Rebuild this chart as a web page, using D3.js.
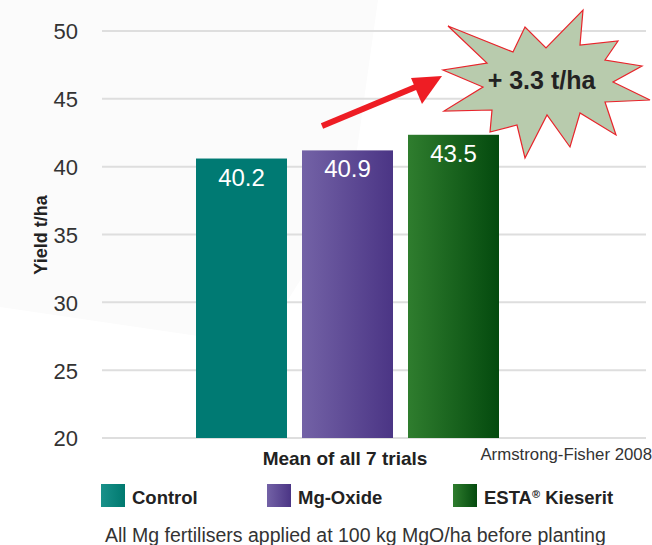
<!DOCTYPE html>
<html>
<head>
<meta charset="utf-8">
<script src="https://cdn.jsdelivr.net/npm/d3@7"></script>
<style>
  html, body { margin: 0; padding: 0; background: #fff; }
  svg { display: block; font-family: "Liberation Sans", Arial, sans-serif; }
</style>
</head>
<body>
<svg id="chart" width="652" height="545"></svg>
<script>
// ---- data ----
const categories = ["Control", "Mg-Oxide", "ESTA® Kieserit"];
const barValues = [40.6, 41.2, 42.35];          // bar heights as drawn
const barLabels = ["40.2", "40.9", "43.5"];     // printed labels
const yTicks = [20, 25, 30, 35, 40, 45, 50];
const gainLabel = "+ 3.3 t/ha";

const svg = d3.select("#chart");
const defs = svg.append("defs");

const grads = [
  ["g0", "#007a73", "#007a73"],
  ["g1", "#7362a6", "#4b3585"],
  ["g2", "#2f7d2e", "#044a0e"],
  ["l0", "#19918a", "#00796f"],
  ["l1", "#7362a6", "#4b3585"],
  ["l2", "#2f7d2e", "#044a0e"]
];
grads.forEach(([id, a, b]) => {
  const g = defs.append("linearGradient").attr("id", id)
    .attr("x1", "0%").attr("x2", "100%").attr("y1", "0%").attr("y2", "0%");
  g.append("stop").attr("offset", "0%").attr("stop-color", a);
  g.append("stop").attr("offset", "100%").attr("stop-color", b);
});

// faint background shape
svg.append("polygon")
  .attr("points", "0,0 378,0 350,200 260,345 0,307")
  .attr("fill", "#fbfbfb");

const y = d3.scaleLinear().domain([20, 50]).range([438, 31]);
const x = d3.scaleBand().domain(categories).range([196, 499])
  .paddingInner(15 / 106).paddingOuter(0);

// gridlines
svg.append("g").selectAll("line").data(yTicks).join("line")
  .attr("x1", 102).attr("x2", 646)
  .attr("y1", d => y(d)).attr("y2", d => y(d))
  .attr("stroke", "#dedede").attr("stroke-width", 2);

// y axis labels
const yAxis = d3.axisLeft(y).tickValues(yTicks).tickSize(0).tickPadding(0);
const ga = svg.append("g").attr("transform", "translate(78,0)").call(yAxis);
ga.select(".domain").remove();
ga.selectAll("text")
  .attr("font-size", 22).attr("fill", "#333")
  .attr("font-family", "Liberation Sans, Arial, sans-serif")
  .attr("dy", "0.36em");

svg.append("text")
  .attr("transform", "translate(47,235) rotate(-90)")
  .attr("text-anchor", "middle")
  .attr("font-size", 18).attr("font-weight", "bold").attr("fill", "#222")
  .text("Yield t/ha");

// bars
svg.append("g").selectAll("rect").data(categories).join("rect")
  .attr("x", d => x(d)).attr("width", x.bandwidth())
  .attr("y", (d, i) => y(barValues[i]))
  .attr("height", (d, i) => y(20) - y(barValues[i]))
  .attr("fill", (d, i) => `url(#g${i})`);

svg.append("g").selectAll("text").data(categories).join("text")
  .attr("x", d => x(d) + x.bandwidth() / 2)
  .attr("y", (d, i) => y(barValues[i]) + 27)
  .attr("text-anchor", "middle")
  .attr("font-size", 24).attr("fill", "#fff")
  .text((d, i) => barLabels[i]);

// arrow
svg.append("line")
  .attr("x1", 322).attr("y1", 126).attr("x2", 418).attr("y2", 86)
  .attr("stroke", "#ee1d24").attr("stroke-width", 6);
svg.append("polygon")
  .attr("points", "442,76 411,78 422,104")
  .attr("fill", "#ee1d24");

// starburst
const star = [
  [448,26],[513,52],[525,27],[546,48],[583,10],[580,45],[618,41],[605,60],
  [642,66],[613,82],[650,100],[605,102],[616,135],[580,113],[570,147],[547,115],
  [525,158],[517,125],[490,132],[492,110],[444,111],[483,87],[443,70],[487,63]
];
svg.append("polygon")
  .attr("points", star.map(p => p.join(",")).join(" "))
  .attr("fill", "#b8cbad").attr("stroke", "#e8242b").attr("stroke-width", 1.2);
svg.append("text")
  .attr("x", 541.5).attr("y", 89).attr("text-anchor", "middle")
  .attr("font-size", 25).attr("font-weight", "bold").attr("fill", "#222")
  .text(gainLabel);

// x caption
svg.append("text")
  .attr("x", 345).attr("y", 465).attr("text-anchor", "middle")
  .attr("font-size", 19).attr("font-weight", "bold").attr("fill", "#222")
  .text("Mean of all 7 trials");
svg.append("text")
  .attr("x", 652).attr("y", 460).attr("text-anchor", "end")
  .attr("font-size", 16.8).attr("fill", "#333")
  .text("Armstrong-Fisher 2008");

// legend
const legX = [101, 267, 453];
const lg = svg.append("g").selectAll("g").data(categories).join("g")
  .attr("transform", (d, i) => `translate(${legX[i]},484)`);
lg.append("rect").attr("width", 24).attr("height", 23)
  .attr("fill", (d, i) => `url(#l${i})`);
lg.append("text").attr("x", 31).attr("y", 20)
  .attr("font-size", 18.5).attr("font-weight", "bold").attr("fill", "#222")
  .each(function(d) {
    const t = d3.select(this);
    if (d.includes("®")) {
      const parts = d.split("®");
      t.append("tspan").text(parts[0]);
      t.append("tspan").attr("font-size", 11).attr("dy", -6).text("®");
      t.append("tspan").attr("dy", 6).text(parts[1]);
    } else {
      t.text(d);
    }
  });

// footnote
svg.append("text")
  .attr("x", 105).attr("y", 541.5)
  .attr("font-size", 19.5).attr("fill", "#333")
  .text("All Mg fertilisers applied at 100 kg MgO/ha before planting");
</script>
</body>
</html>
